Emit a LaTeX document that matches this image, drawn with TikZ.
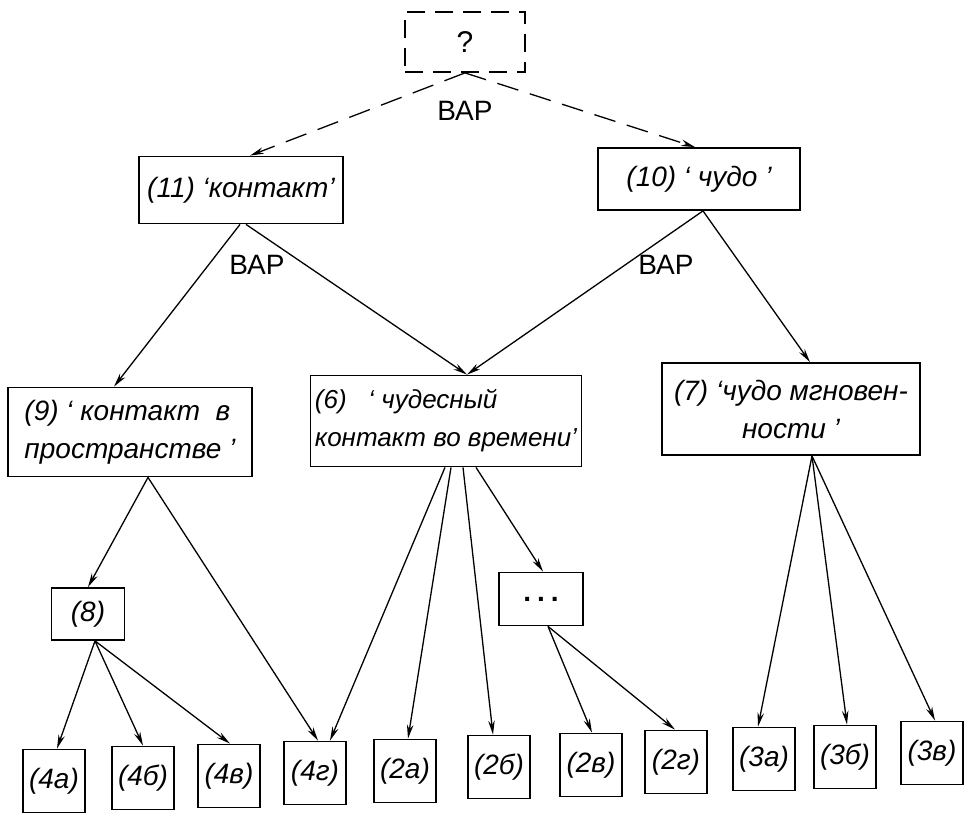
\documentclass[tikz,border=0pt]{standalone}
\usepackage{fontspec}
\setmainfont{Liberation Sans}
\usetikzlibrary{arrows.meta}
\tikzstyle{box} = [draw, line width=1.8pt, inner sep=0pt, font=\fontsize{28}{38}\selectfont\itshape]
\tikzstyle{leaf} = [box, minimum width=62pt, minimum height=63pt]
\tikzstyle{arrow} = [line width=1.3pt, -{Stealth[length=14pt,width=6.5pt]}]
\tikzstyle{dasharrow} = [arrow, dash pattern=on 22pt off 12pt]
\tikzstyle{lbl} = [font=\fontsize{28}{30}\selectfont]

\begin{document}
\begin{tikzpicture}[x=1pt,y=-1pt]
  \useasboundingbox (0,0) rectangle (967,812);
  % top levels
  \node[box, dash pattern=on 18pt off 10pt, font=\fontsize{30}{30}\selectfont, minimum width=120pt, minimum height=60pt] (q) at (465,42) {?};
  \node[box, minimum width=204pt, minimum height=67pt] (b11) at (241,190) {(11) ‘контакт’};
  \node[box, minimum width=202pt, minimum height=62pt] (b10) at (699,179) {(10) ‘ чудо ’};
  \node[box, align=left, minimum width=244pt, minimum height=89pt] (b9) at (130,432) {(9) ‘ контакт\ \ в\\пространстве ’};
  \node[box, align=left, minimum width=271pt, minimum height=91pt, font=\fontsize{26}{38}\selectfont\itshape] (b6) at (446,421) {(6)\ \ \ ‘ чудесный\\контакт во времени’};
  \node[box, align=center, minimum width=258pt, minimum height=92pt] (b7) at (791,409) {(7) ‘чудо мгновен-\\ности ’};
  \node[box, minimum width=73pt, minimum height=52pt] (b8) at (88,614) {(8)};
  \node[box, minimum width=84pt, minimum height=53pt, font=\fontsize{28}{30}\selectfont\bfseries] (bdots) at (541,599) {.\hspace{6pt}.\hspace{6pt}.};
  % leaves
  \node[leaf] (b4a) at (54,781) {(4а)};
  \node[leaf] (b4b) at (143,778) {(4б)};
  \node[leaf] (b4v) at (229,776) {(4в)};
  \node[leaf] (b4g) at (315,773) {(4г)};
  \node[leaf] (b2a) at (405,771) {(2а)};
  \node[leaf] (b2b) at (499,767) {(2б)};
  \node[leaf] (b2v) at (591,765) {(2в)};
  \node[leaf] (b2g) at (676,762) {(2г)};
  \node[leaf] (b3a) at (764,759) {(3а)};
  \node[leaf] (b3b) at (845,757) {(3б)};
  \node[leaf] (b3v) at (932,753) {(3в)};
  % labels
  \node[lbl] (var0) at (465,111) {ВАР};
  \node[lbl] (var1) at (257,265) {ВАР};
  \node[lbl] (var2) at (666,265) {ВАР};
  % connectors
  \draw[dasharrow] (q.south) -- ([xshift=9pt]b11.north);
  \draw[dasharrow] (q.south) -- ([xshift=-4pt]b10.north);
  \draw[arrow] ([xshift=-1pt]b11.south) -- ([xshift=-16pt]b9.north);
  \draw[arrow] ([xshift=5pt]b11.south) -- ([xshift=21pt]b6.north);
  \draw[arrow] ([xshift=4pt]b10.south) -- ([xshift=21pt]b6.north);
  \draw[arrow] ([xshift=4pt]b10.south) -- ([xshift=19pt]b7.north);
  \draw[arrow] ([xshift=18pt]b9.south) -- (b8.north);
  \draw[arrow] ([xshift=18pt]b9.south) -- ([xshift=3pt]b4g.north);
  \draw[arrow] ([xshift=-1pt]b6.south) -- ([xshift=15pt]b4g.north);
  \draw[arrow] ([xshift=5pt]b6.south) -- ([xshift=3pt]b2a.north);
  \draw[arrow] ([xshift=17pt]b6.south) -- ([xshift=-6pt]b2b.north);
  \draw[arrow] ([xshift=30pt]b6.south) -- ([xshift=2pt]bdots.north);
  \draw[arrow] ([xshift=7pt]b8.south) -- ([xshift=3pt]b4a.north);
  \draw[arrow] ([xshift=7pt]b8.south) -- (b4b.north);
  \draw[arrow] ([xshift=7pt]b8.south) -- ([xshift=1pt]b4v.north);
  \draw[arrow] ([xshift=7pt]bdots.south) -- ([xshift=1pt]b2v.north);
  \draw[arrow] ([xshift=7pt]bdots.south) -- ([xshift=-1pt]b2g.north);
  \draw[arrow] ([xshift=21pt]b7.south) -- ([xshift=-6pt]b3a.north);
  \draw[arrow] ([xshift=21pt]b7.south) -- ([xshift=2pt]b3b.north);
  \draw[arrow] ([xshift=21pt]b7.south) -- ([xshift=3pt]b3v.north);
\end{tikzpicture}
\end{document}
